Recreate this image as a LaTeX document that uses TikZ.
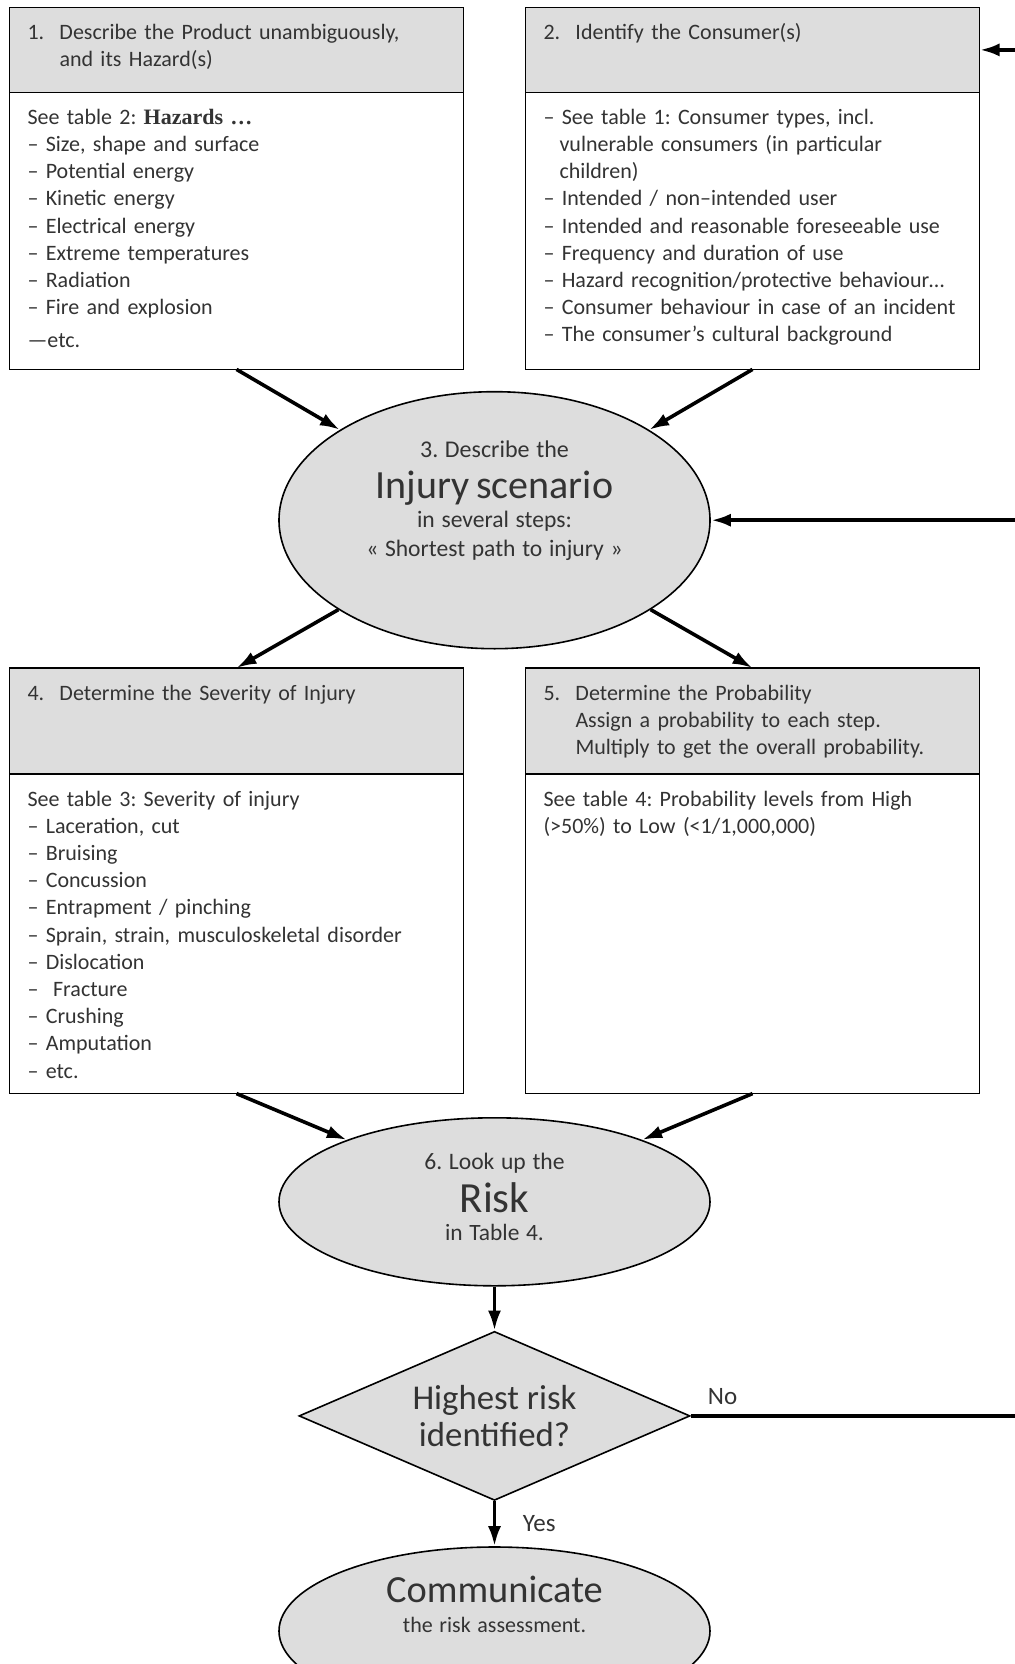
\documentclass[tikz,border=0pt]{standalone}
\usepackage{fontspec}
\setmainfont{Carlito}
\newfontfamily\timesfont{Liberation Serif}
\usetikzlibrary{arrows.meta, positioning, shapes.geometric}
\frenchspacing

\newcommand{\stepno}[1]{\makebox[16pt][l]{#1}}
\newcommand{\stepind}{\hspace*{16pt}}
\newcommand{\dashind}{\hspace*{8pt}}
\newcommand{\padbelow}[1]{\rule[-#1]{0pt}{0pt}}

\begin{document}
\begin{tikzpicture}[
		hdbox/.style={rectangle, draw=black, line width=0.8pt, fill=gray!27, text width=209pt, inner xsep=9pt, inner ysep=6pt, outer sep=0pt, text height=10pt, align=left, text=black!80, font=\fontsize{11}{13.6}\selectfont},
		bdbox/.style={hdbox, fill=white},
		oval/.style={ellipse, draw=black, line width=0.8pt, fill=gray!27, minimum width=215.5pt, inner sep=0pt, text width=150pt, align=center, text=black!80},
		decision/.style={diamond, draw=black, line width=0.8pt, fill=gray!27, minimum width=195.5pt, minimum height=84.5pt, aspect=2.3, inner sep=0pt, align=center, text=black!80, font=\fontsize{17.4}{18.6}\selectfont},
		arrow/.style={-{Latex[length=10pt, width=6.5pt]}, line width=1.8pt},
		lbl/.style={text=black!80, font=\fontsize{12.5}{15}\selectfont}
		]
		
		\useasboundingbox (0,0) rectangle (507.5pt,-832pt);
		
		% Top boxes
		\node[hdbox, text depth=20.5pt, anchor=north west] (hd1) at (4.75pt,-3.7pt) {\stepno{1.}Describe the Product unambiguously,\\\stepind and its Hazard(s)};
		\node[hdbox, text depth=20.5pt, right=31pt of hd1] (hd2) {\stepno{2.}Identify the Consumer(s)};
		\node[bdbox, text depth=116.5pt, below=0pt of hd1] (bd1) {See table 2: {\timesfont\bfseries Hazards …}\\
			– Size, shape and surface\\
			– Potential energy\\
			– Kinetic energy\\
			– Electrical energy\\
			– Extreme temperatures\\
			– Radiation\\
			– Fire and explosion\\[3pt]
			—etc.};
		\node[bdbox, text depth=116.5pt, below=0pt of hd2] (bd2) {– See table 1: Consumer types, incl.\\
			\dashind vulnerable consumers (in particular\\
			\dashind children)\\
			– Intended / non–intended user\\
			– Intended and reasonable foreseeable use\\
			– Frequency and duration of use\\
			– Hazard recognition/protective behaviour…\\
			– Consumer behaviour in case of an incident\\
			– The consumer's cultural background};
		
		% Scenario
		\path (bd1.south) -- (bd2.south) coordinate[midway] (mid1);
		\node[oval, minimum height=128.5pt, below=10.75pt of mid1] (scen) {%
			{\fontsize{12}{14}\selectfont 3. Describe the\par}
			{\fontsize{20}{20.5}\selectfont Injury scenario\par}
			{\fontsize{11.8}{14.5}\selectfont in several steps:\par
				« Shortest path to injury »\padbelow{22pt}\par}};
		
		% Lower boxes
		\node[hdbox, text depth=31pt, below=149.3pt of bd1] (hd4) {\stepno{4.}Determine the Severity of Injury};
		\node[hdbox, text depth=31pt, right=31pt of hd4] (hd5) {\stepno{5.}Determine the Probability\\\stepind Assign a probability to each step.\\\stepind Multiply to get the overall probability.};
		\node[bdbox, text depth=137.8pt, below=0pt of hd4] (bd4) {See table 3: Severity of injury\\
			– Laceration, cut\\
			– Bruising\\
			– Concussion\\
			– Entrapment / pinching\\
			– Sprain, strain, musculoskeletal disorder\\
			– Dislocation\\
			– \ Fracture\\
			– Crushing\\
			– Amputation\\
			– etc.};
		\node[bdbox, text depth=137.8pt, below=0pt of hd5] (bd5) {See table 4: Probability levels from High\\
			(>50\%) to Low (<1/1,000,000)};
		
		% Risk and decision
		\path (bd4.south) -- (bd5.south) coordinate[midway] (mid2);
		\node[oval, minimum height=84pt, below=11.7pt of mid2] (risk) {%
			{\fontsize{11.8}{14}\selectfont 6. Look up the\par}
			{\fontsize{21.5}{21.5}\selectfont Risk\par}
			{\fontsize{11.7}{14}\selectfont in Table 4.\padbelow{5pt}\par}};
		\node[decision, below=22pt of risk] (dec) {Highest risk\\identified?};
		\node[oval, minimum height=84pt, below=22.5pt of dec] (comm) {%
			{\fontsize{19.2}{20}\selectfont Communicate\par}
			{\fontsize{11}{15}\selectfont the risk assessment.\padbelow{27pt}\par}};
		
		% Arrows
		\draw[arrow] (bd1.south) -- (scen);
		\draw[arrow] (bd2.south) -- (scen);
		\draw[arrow] (scen) -- (hd4.north);
		\draw[arrow] (scen) -- (hd5.north);
		\draw[arrow] (bd4.south) -- (risk);
		\draw[arrow] (bd5.south) -- (risk);
		\draw[arrow] (risk) -- (dec);
		\draw[arrow] (dec) -- node[lbl, right=10pt] (yes) {Yes} (comm);
		
		% Feedback path
		\coordinate[right=26pt of hd2.east] (fb);
		\draw[arrow, line width=2pt] (dec.east) -| (fb) -- (hd2.east);
		\draw[arrow, line width=2pt] (fb |- scen.east) -- (scen.east);
		\node[lbl, above right=2pt and 5pt of dec.east] (no) {No};
		
	\end{tikzpicture}
\end{document}
